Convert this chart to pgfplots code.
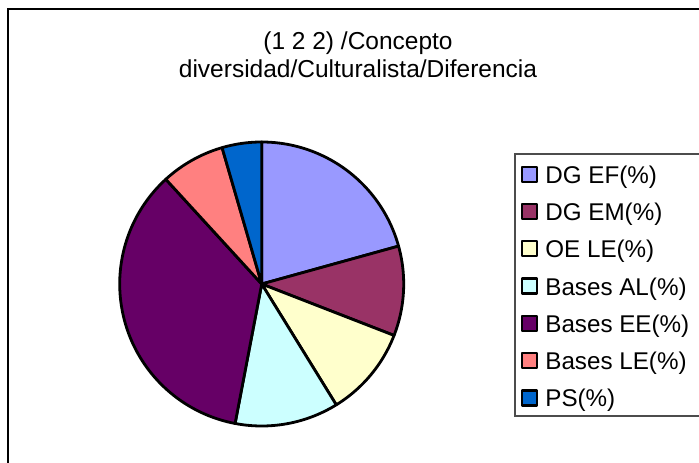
\documentclass[border=0pt]{standalone}
\usepackage{pgfplots}
\pgfplotsset{compat=1.18}
\usepackage{fontspec}
\setmainfont{Liberation Sans}
\definecolor{cEF}{HTML}{9999FF}
\definecolor{cEM}{HTML}{993366}
\definecolor{cOE}{HTML}{FFFFCC}
\definecolor{cAL}{HTML}{CCFFFF}
\definecolor{cEE}{HTML}{660066}
\definecolor{cLE}{HTML}{FF8080}
\definecolor{cPS}{HTML}{0066CC}
% slice values (%), clockwise from 12 o'clock
\def\vEF{20.7}
\def\vEM{10.2}
\def\vOE{10.3}
\def\vAL{11.8}
\def\vEE{35.2}
\def\vLE{7.3}
\def\vPS{4.5}
\pgfmathsetmacro\aA{90}
\pgfmathsetmacro\aB{\aA-3.6*\vEF}
\pgfmathsetmacro\aC{\aB-3.6*\vEM}
\pgfmathsetmacro\aD{\aC-3.6*\vOE}
\pgfmathsetmacro\aE{\aD-3.6*\vAL}
\pgfmathsetmacro\aF{\aE-3.6*\vEE}
\pgfmathsetmacro\aG{\aF-3.6*\vLE}
\pgfmathsetmacro\aH{\aG-3.6*\vPS}
\begin{document}
\begin{tikzpicture}
\pgfplotsset{slice/.style={draw=black, line width=2.8pt, line join=round, samples=80, variable=\t, fill=#1}}
\begin{axis}[
  at={(261.7pt,179pt)}, anchor=center,
  x=142pt, y=142pt,
  xmin=-1, xmax=1, ymin=-1, ymax=1,
  hide axis, clip=false,
  legend image code/.code={\draw[#1, draw=black, line width=2.2pt] (0pt,-4pt) rectangle (15pt,11pt);},
  legend cell align=left,
  legend style={draw=none, fill=none, inner sep=0pt, at={(1.413,0.9176)}, anchor=north west,
    font=\fontsize{24.2}{28}\selectfont, row sep=13.7pt,
    nodes={inner sep=0pt, text height=17pt, text depth=6pt, anchor=west},
    /tikz/every odd column/.append style={column sep=7pt}},
]
\addplot[slice=cEF, domain=\aB:\aA] ({cos(t)},{sin(t)}) -- (axis cs:0,0) -- cycle;
\addlegendentry{DG EF(\%)}
\addplot[slice=cEM, domain=\aC:\aB] ({cos(t)},{sin(t)}) -- (axis cs:0,0) -- cycle;
\addlegendentry{DG EM(\%)}
\addplot[slice=cOE, domain=\aD:\aC] ({cos(t)},{sin(t)}) -- (axis cs:0,0) -- cycle;
\addlegendentry{OE LE(\%)}
\addplot[slice=cAL, domain=\aE:\aD] ({cos(t)},{sin(t)}) -- (axis cs:0,0) -- cycle;
\addlegendentry{Bases AL(\%)}
\addplot[slice=cEE, domain=\aF:\aE] ({cos(t)},{sin(t)}) -- (axis cs:0,0) -- cycle;
\addlegendentry{Bases EE(\%)}
\addplot[slice=cLE, domain=\aG:\aF] ({cos(t)},{sin(t)}) -- (axis cs:0,0) -- cycle;
\addlegendentry{Bases LE(\%)}
\addplot[slice=cPS, domain=\aH:\aG] ({cos(t)},{sin(t)}) -- (axis cs:0,0) -- cycle;
\addlegendentry{PS(\%)}
\end{axis}
\node[anchor=base, font=\fontsize{24.5}{28}\selectfont, inner sep=0pt] at (358pt,413pt) {(1 2 2) /Concepto};
\node[anchor=base, font=\fontsize{24.5}{28}\selectfont, inner sep=0pt] at (358pt,385pt) {diversidad/Culturalista/Diferencia};
\draw[line width=2pt] (8pt,-20pt) -- (8pt,453.5pt) -- (730pt,453.5pt);
\draw[line width=1.3pt, black!70] (730pt,309pt) -- (515pt,309pt) -- (515pt,47pt) -- (730pt,47pt);
\pgfresetboundingbox
\path[use as bounding box] (0pt,0pt) rectangle (699pt,463pt);
\end{tikzpicture}
\end{document}
